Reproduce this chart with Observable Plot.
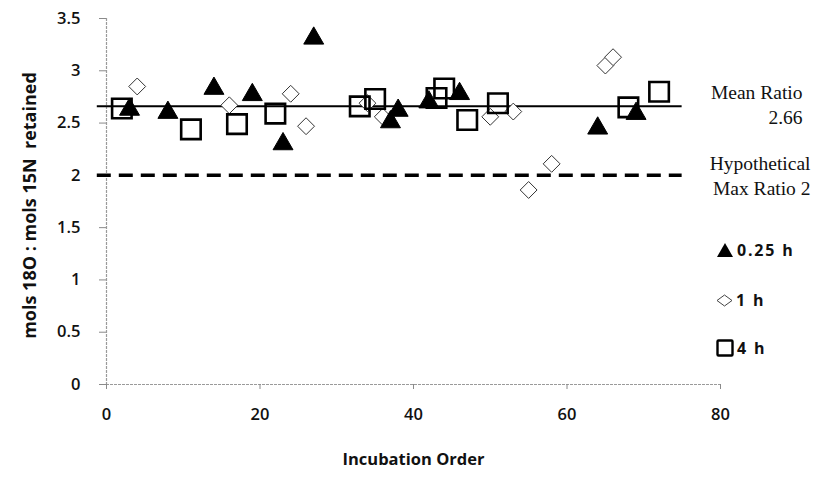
<!DOCTYPE html>
<html>
<head>
<meta charset="utf-8">
<script src="https://cdn.jsdelivr.net/npm/d3@7"></script>
<script src="https://cdn.jsdelivr.net/npm/@observablehq/plot@0.6"></script>
<style>
  body { margin: 0; background: #fff; }
  #wrap { position: relative; width: 815px; height: 478px; background: #fff; }
  .leg { position: absolute; display: flex; align-items: center; font: 700 16px "Open Sans", sans-serif; letter-spacing: 1.8px; color: #111; }
  .leg svg { margin-right: 3px; }
</style>
</head>
<body>
<div id="wrap"></div>
<script>
// ---- data ----
const xTicks = [0, 20, 40, 60, 80];
const yTicks = [0, 0.5, 1, 1.5, 2, 2.5, 3, 3.5];
const yTickLabels = ["0", "0.5", "1", "1.5", "2", "2.5", "3", "3.5"];

const series = ["0.25 h", "1 h", "4 h"];

const order025 = [3, 8, 14, 19, 23, 27, 37, 38, 42, 46, 64, 69];
const ratio025 = [2.63, 2.60, 2.83, 2.77, 2.30, 3.31, 2.51, 2.62, 2.70, 2.78, 2.45, 2.59];

const order1 = [4, 16, 24, 26, 34, 36, 50, 53, 55, 58, 65, 66];
const ratio1 = [2.85, 2.67, 2.78, 2.47, 2.69, 2.56, 2.56, 2.61, 1.86, 2.11, 3.05, 3.13];

const order4 = [2, 11, 17, 22, 33, 35, 43, 44, 47, 51, 68, 72];
const ratio4 = [2.64, 2.44, 2.49, 2.59, 2.66, 2.73, 2.74, 2.83, 2.53, 2.69, 2.65, 2.80];

const meanRatio = 2.66;
const hypMaxRatio = 2;
const refLineStart = -1.2;
const refLineEnd = 75;

const xTitle = "Incubation Order";
const yTitle = "mols 18O : mols 15N  retained";
const meanLabel = "Mean Ratio\n2.66";
const hypLabel = "Hypothetical\nMax Ratio 2";

// ---- build tables ----
const pts = (xs, ys) => xs.map((x, i) => ({x, y: ys[i]}));
const d025 = pts(order025, ratio025);
const d1 = pts(order1, ratio1);
const d4 = pts(order4, ratio4);

const sansFont = '"Open Sans", sans-serif';
const serifFont = '"Liberation Serif", "DejaVu Serif", serif';

const chart = Plot.plot({
  width: 815,
  height: 478,
  marginLeft: 106,
  marginRight: 95,
  marginTop: 18,
  marginBottom: 94,
  style: { fontFamily: sansFont, fontSize: "16px", background: "white", color: "#111", overflow: "visible" },
  x: { domain: [0, 80] },
  y: { domain: [0, 3.5] },
  marks: [
    Plot.ruleX([0], { stroke: "#9a9a9a", strokeWidth: 1.2, strokeDasharray: "3,1" }),
    Plot.ruleY([0], { stroke: "#9a9a9a", strokeWidth: 1.2, strokeDasharray: "3,1" }),
    Plot.axisY(yTicks, {
      tickSize: 7, tickPadding: 19, stroke: "#8a8a8a", fill: "#111",
      fontWeight: 600, fontSize: 16.5,
      tickFormat: d => yTickLabels[yTicks.indexOf(d)], label: null
    }),
    Plot.axisX(xTicks, {
      tickSize: 5, tickPadding: 19, stroke: "#8a8a8a", fill: "#111",
      fontWeight: 600, fontSize: 16.5, label: null
    }),
    Plot.ruleY([hypMaxRatio], { x1: refLineStart, x2: refLineEnd, stroke: "#000", strokeWidth: 3.5, strokeDasharray: "14,8" }),
    Plot.ruleY([meanRatio], { x1: refLineStart, x2: refLineEnd, stroke: "#000", strokeWidth: 2 }),
    Plot.dot(d1, { x: "x", y: "y", symbol: "diamond2", r: 7.6, stroke: "#333", strokeWidth: 1, fill: "white" }),
    Plot.dot(d4, { x: "x", y: "y", symbol: "square", r: 11, stroke: "#000", strokeWidth: 2.6, fill: "none" }),
    Plot.dot(d025, { x: "x", y: "y", symbol: "triangle", r: 7.4, stroke: "#000", strokeWidth: 1, fill: "#000" }),
    Plot.text([meanRatio], {
      y: d => d, text: () => meanLabel, frameAnchor: "right", dx: 82, dy: -3,
      textAnchor: "end", lineHeight: 1.32, fontFamily: serifFont, fontSize: 19.5, fill: "#111"
    }),
    Plot.text([hypMaxRatio], {
      y: d => d, text: () => hypLabel, frameAnchor: "right", dx: 90, dy: -1,
      textAnchor: "end", lineHeight: 1.32, fontFamily: serifFont, fontSize: 19.5, fill: "#111"
    }),
    Plot.text([xTitle], { text: d => d, frameAnchor: "bottom", textAnchor: "middle", dy: 80, fontWeight: 700, fontSize: 16.5, fill: "#111" }),
    Plot.text([yTitle], { text: d => d, frameAnchor: "left", textAnchor: "middle", dx: -76, dy: 4, rotate: -90, fontWeight: 700, fontSize: 18, letterSpacing: 0.8, fill: "#111" })
  ]
});

const wrap = document.getElementById("wrap");
wrap.appendChild(chart);

// ---- legend (HTML overlay at right) ----
const legendSymbols = [
  '<svg width="18" height="16" viewBox="0 0 18 16"><path d="M9,1 L17,15 L1,15 Z" fill="#000"/></svg>',
  '<svg width="17" height="13" viewBox="0 0 17 13"><path d="M8.5,1 L16,6.5 L8.5,12 L1,6.5 Z" fill="#fff" stroke="#444" stroke-width="1"/></svg>',
  '<svg width="18" height="18" viewBox="0 0 18 18"><rect x="1.5" y="1.5" width="15" height="15" rx="1" fill="none" stroke="#000" stroke-width="2.4"/></svg>'
];
const legendTop = [239, 289, 337];
const legendLeft = [716, 716, 716];
series.forEach((s, i) => {
  const div = document.createElement("div");
  div.className = "leg";
  div.style.left = legendLeft[i] + "px";
  div.style.top = legendTop[i] + "px";
  div.innerHTML = legendSymbols[i] + "<span>" + s + "</span>";
  wrap.appendChild(div);
});
</script>
</body>
</html>
